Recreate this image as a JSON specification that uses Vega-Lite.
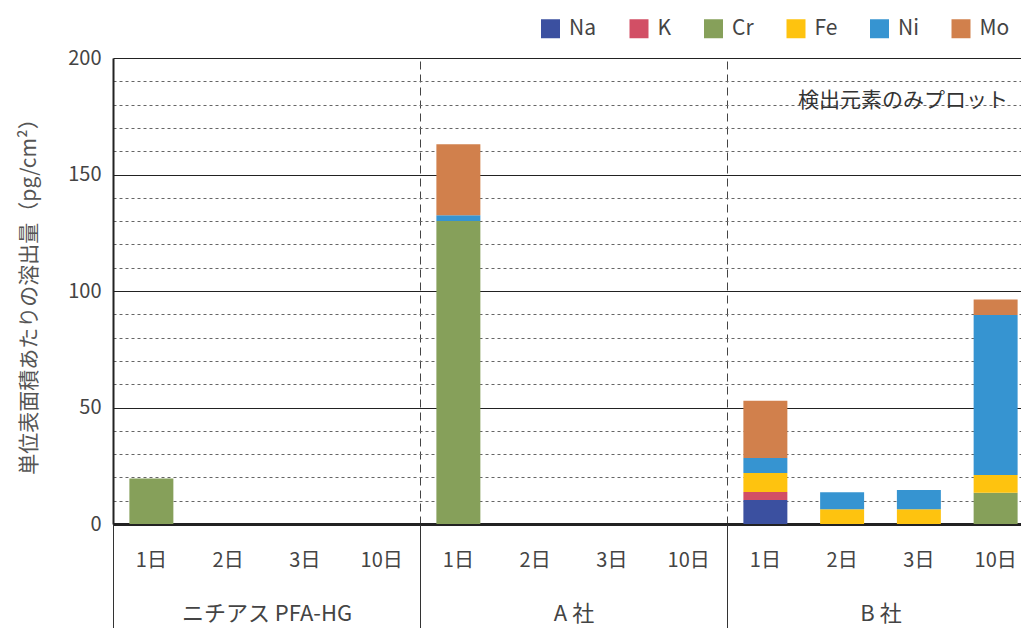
{
  "$schema": "https://vega.github.io/schema/vega-lite/v6.json",
  "width": 908,
  "height": 466,
  "autosize": {"type": "none"},
  "padding": {"left": 113, "top": 58, "right": 0, "bottom": 104},
  "background": "white",
  "title": {
    "text": "検出元素のみプロット",
    "anchor": "end",
    "orient": "top",
    "frame": "group",
    "offset": 0,
    "dy": 93,
    "dx": -13,
    "fontSize": 21,
    "fontWeight": "normal",
    "color": "#333",
    "font": "Noto Sans CJK JP"
  },
  "config": {
    "view": {"stroke": null},
    "font": "Noto Sans CJK JP"
  },
  "layer": [
    {
      "data": {
        "values": [
          {"bar": "ニチアス PFA-HG/1日", "grp": "ニチアス PFA-HG", "day": "1日", "el": "Cr", "v": 19.5},
          {"bar": "A 社/1日", "grp": "A 社", "day": "1日", "el": "Cr", "v": 130},
          {"bar": "A 社/1日", "grp": "A 社", "day": "1日", "el": "Ni", "v": 2.5},
          {"bar": "A 社/1日", "grp": "A 社", "day": "1日", "el": "Mo", "v": 30.5},
          {"bar": "B 社/1日", "grp": "B 社", "day": "1日", "el": "Na", "v": 10.3},
          {"bar": "B 社/1日", "grp": "B 社", "day": "1日", "el": "K", "v": 3.4},
          {"bar": "B 社/1日", "grp": "B 社", "day": "1日", "el": "Fe", "v": 8.2},
          {"bar": "B 社/1日", "grp": "B 社", "day": "1日", "el": "Ni", "v": 6.4},
          {"bar": "B 社/1日", "grp": "B 社", "day": "1日", "el": "Mo", "v": 24.6},
          {"bar": "B 社/2日", "grp": "B 社", "day": "2日", "el": "Fe", "v": 6.3},
          {"bar": "B 社/2日", "grp": "B 社", "day": "2日", "el": "Ni", "v": 7.3},
          {"bar": "B 社/3日", "grp": "B 社", "day": "3日", "el": "Fe", "v": 6.3},
          {"bar": "B 社/3日", "grp": "B 社", "day": "3日", "el": "Ni", "v": 8.3},
          {"bar": "B 社/10日", "grp": "B 社", "day": "10日", "el": "Cr", "v": 13.4},
          {"bar": "B 社/10日", "grp": "B 社", "day": "10日", "el": "Fe", "v": 7.6},
          {"bar": "B 社/10日", "grp": "B 社", "day": "10日", "el": "Ni", "v": 68.7},
          {"bar": "B 社/10日", "grp": "B 社", "day": "10日", "el": "Mo", "v": 6.7}
        ]
      },
      "transform": [
        {"calculate": "indexof(['Na', 'K', 'Cr', 'Fe', 'Ni', 'Mo'], datum.el)", "as": "stackOrder"}
      ],
      "mark": {"type": "bar", "width": {"band": 0.573}},
      "encoding": {
        "x": {
          "field": "bar",
          "type": "nominal",
          "scale": {
            "domain": ["ニチアス PFA-HG/1日", "ニチアス PFA-HG/2日", "ニチアス PFA-HG/3日", "ニチアス PFA-HG/10日",
                       "A 社/1日", "A 社/2日", "A 社/3日", "A 社/10日",
                       "B 社/1日", "B 社/2日", "B 社/3日", "B 社/10日"],
            "range": [0, 921],
            "paddingInner": 0,
            "paddingOuter": 0
          },
          "axis": {
            "orient": "bottom",
            "title": null,
            "labelExpr": "split(datum.label, '/')[1]",
            "labelAngle": 0,
            "ticks": false,
            "grid": false,
            "domain": true,
            "domainColor": "#222",
            "domainWidth": 3,
            "labelFontSize": 20,
            "labelColor": "#444",
            "labelPadding": 26,
            "labelFont": "Noto Sans CJK JP"
          }
        },
        "y": {
          "field": "v",
          "type": "quantitative",
          "stack": "zero",
          "scale": {"domain": [0, 200], "nice": false},
          "axis": {
            "title": "単位表面積あたりの溶出量（pg/cm²）",
            "titleFontSize": 21,
            "titleFontWeight": "normal",
            "titleColor": "#555",
            "titlePadding": 28,
            "titleFont": "Noto Sans CJK JP",
            "values": [0, 10, 20, 30, 40, 50, 60, 70, 80, 90, 100, 110, 120, 130, 140, 150, 160, 170, 180, 190, 200],
            "labelExpr": "datum.value % 50 === 0 ? datum.label : ''",
            "ticks": false,
            "domainColor": "#222",
            "domainWidth": 2,
            "labelFontSize": 20,
            "labelColor": "#444",
            "labelPadding": 12,
            "labelFont": "Noto Sans CJK JP",
            "grid": true,
            "gridWidth": 1,
            "gridColor": {"condition": {"test": "datum.value % 50 === 0", "value": "#222"}, "value": "#666"},
            "gridDash": {"condition": {"test": "datum.value % 50 === 0", "value": []}, "value": [3, 3]}
          }
        },
        "order": {"field": "stackOrder", "type": "quantitative", "sort": "ascending"},
        "color": {
          "field": "el",
          "type": "nominal",
          "sort": ["Na", "K", "Cr", "Fe", "Ni", "Mo"],
          "scale": {
            "domain": ["Na", "K", "Cr", "Fe", "Ni", "Mo"],
            "range": ["#3B50A0", "#D24F65", "#86A05A", "#FEC30F", "#3694D1", "#D1804C"]
          },
          "legend": {
            "title": null,
            "orient": "none",
            "legendX": 427,
            "legendY": -40,
            "direction": "horizontal",
            "columns": 6,
            "columnPadding": 31.5,
            "symbolType": "square",
            "symbolSize": 361,
            "symbolStrokeWidth": 0,
            "symbolOpacity": 1,
            "labelFontSize": 21,
            "labelColor": "#444",
            "labelOffset": 8,
            "labelFont": "Noto Sans CJK JP",
            "padding": 0
          }
        }
      }
    },
    {
      "data": {
        "values": [
          {"grp": "ニチアス PFA-HG"},
          {"grp": "A 社"},
          {"grp": "B 社"}
        ]
      },
      "mark": {"type": "rule", "opacity": 0},
      "encoding": {
        "x": {
          "field": "grp",
          "type": "nominal",
          "scale": {
            "domain": ["ニチアス PFA-HG", "A 社", "B 社"],
            "range": [0, 921],
            "paddingInner": 0,
            "paddingOuter": 0
          },
          "axis": {
            "orient": "bottom",
            "title": null,
            "labelAngle": 0,
            "domain": false,
            "ticks": true,
            "tickBand": "extent",
            "tickSize": 104,
            "tickColor": "#333",
            "tickWidth": 1,
            "grid": true,
            "gridDash": [8, 5],
            "gridColor": "#444",
            "gridWidth": 1,
            "labelPadding": -25,
            "labelFontSize": 22,
            "labelColor": "#444",
            "labelFont": "Noto Sans CJK JP"
          }
        }
      }
    }
  ],
  "resolve": {"scale": {"x": "independent"}, "axis": {"x": "independent"}}
}
